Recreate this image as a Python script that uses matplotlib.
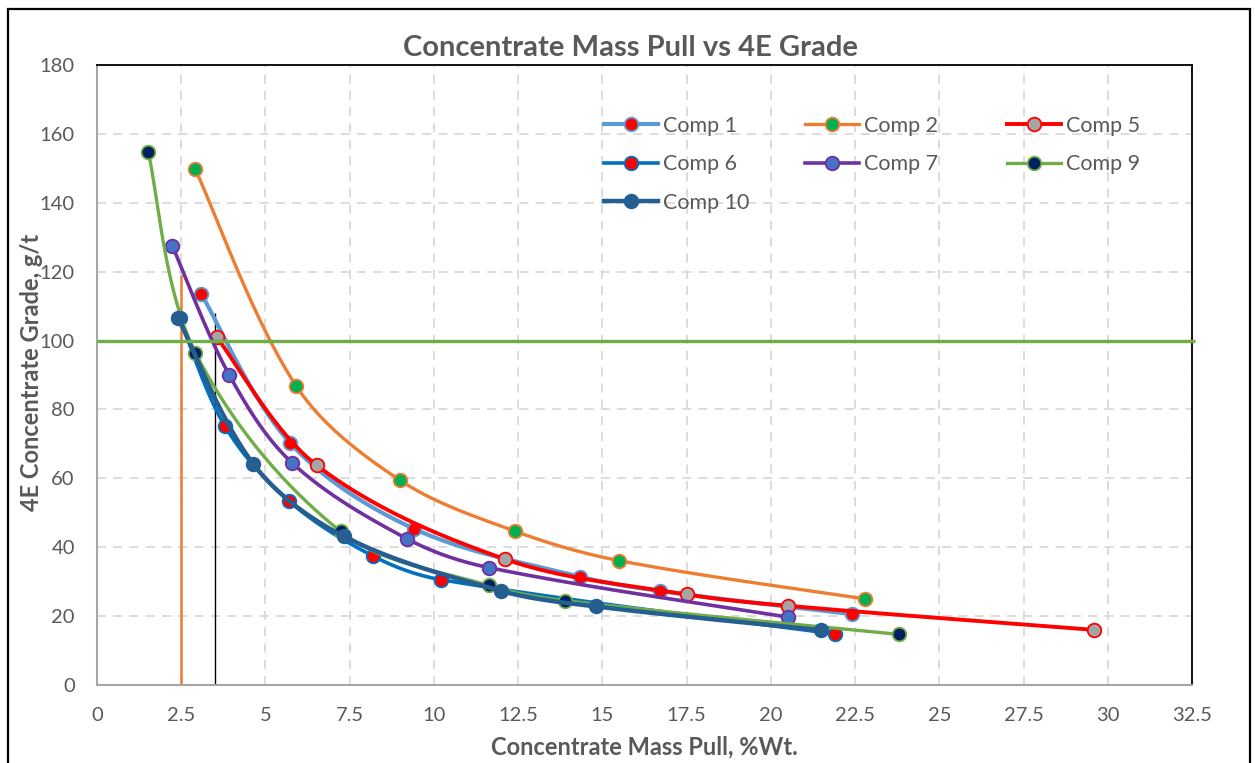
import numpy as np
import matplotlib
matplotlib.use("Agg")
import matplotlib.pyplot as plt
from matplotlib.lines import Line2D
from matplotlib.patches import Rectangle

plt.rcParams['font.family'] = ['Lato', 'DejaVu Sans']

# ---- data: mass pull (%wt) vs 4E concentrate grade (g/t) ----
comp1_x = [3.1, 5.72, 9.4, 14.35, 16.7, 22.4]
comp1_y = [113.4, 70.4, 45.4, 31.4, 27.3, 20.6]

comp2_x = [2.92, 5.92, 9.0, 12.42, 15.5, 22.8]
comp2_y = [149.7, 86.7, 59.4, 44.6, 36.1, 25.0]

comp5_x = [3.55, 6.52, 12.12, 17.5, 20.5, 29.6]
comp5_y = [101.0, 63.8, 36.5, 26.3, 23.0, 16.0]

comp6_x = [2.45, 3.8, 5.7, 8.2, 10.2, 21.9]
comp6_y = [106.5, 75.1, 53.4, 37.4, 30.6, 14.8]

comp7_x = [2.24, 3.92, 5.8, 9.21, 11.62, 20.5]
comp7_y = [127.4, 90.1, 64.4, 42.4, 34.1, 19.7]

comp9_x = [1.52, 2.92, 7.23, 11.62, 13.9, 23.8]
comp9_y = [154.8, 96.5, 44.6, 28.9, 24.5, 14.7]

comp10_x = [2.41, 4.63, 7.32, 12.0, 14.8, 21.5]
comp10_y = [106.5, 64.3, 43.2, 27.3, 22.8, 15.9]

series_names = ["Comp 1", "Comp 2", "Comp 5", "Comp 6", "Comp 7", "Comp 9", "Comp 10"]

# reference lines: 100 g/t target grade and two mass-pull cut-offs
target_grade_x = [0.0, 32.6]
target_grade_y = [100.0, 100.0]
pull_a_x = [2.5, 2.5]
pull_a_y = [0.0, 119.0]
pull_b_x = [3.5, 3.5]
pull_b_y = [0.0, 108.0]

x_ticks = [0, 2.5, 5, 7.5, 10, 12.5, 15, 17.5, 20, 22.5, 25, 27.5, 30, 32.5]
x_tick_labels = ["0", "2.5", "5", "7.5", "10", "12.5", "15", "17.5", "20", "22.5", "25", "27.5", "30", "32.5"]
y_ticks = [0, 20, 40, 60, 80, 100, 120, 140, 160, 180]

W, H = 1255, 763
AX_L, AX_R, AX_T, AX_B = 97, 1192, 65, 685
X_MAX, Y_MAX = 32.5, 180.0
SX = (AX_R - AX_L) / X_MAX      # pixels per x unit
SY = (AX_B - AX_T) / Y_MAX      # pixels per y unit


def smooth(xs, ys, n=50):
    """Bezier smoothing through the points; tangents follow neighbouring
    points and handle lengths follow each segment (no overshoot on uneven spacing)."""
    p = np.column_stack([np.asarray(xs) * SX, np.asarray(ys) * SY]).astype(float)
    m = len(p)
    d = np.zeros_like(p)
    for i in range(m):
        a = p[max(i - 1, 0)]
        b = p[min(i + 1, m - 1)]
        v = b - a
        d[i] = v / np.hypot(*v)
    out = [p[:1]]
    t = np.linspace(0, 1, n)[1:, None]
    for i in range(m - 1):
        p1, p2 = p[i], p[i + 1]
        L = np.hypot(*(p2 - p1))
        k1 = L / 3.0 if 0 < i else L / 5.0
        k2 = L / 3.0 if i + 1 < m - 1 else L / 5.0
        c1 = p1 + d[i] * k1
        c2 = p2 - d[i + 1] * k2
        seg = ((1 - t) ** 3) * p1 + 3 * ((1 - t) ** 2) * t * c1 + 3 * (1 - t) * t ** 2 * c2 + t ** 3 * p2
        out.append(seg)
    pts = np.vstack(out)
    return pts[:, 0] / SX, pts[:, 1] / SY


styles = {
    "Comp 1": dict(line="#5B9BD5", face="#FF0000", edge="#5B9BD5", lw=3.0),
    "Comp 2": dict(line="#ED7D31", face="#00B050", edge="#ED7D31", lw=2.4),
    "Comp 5": dict(line="#FF0000", face="#A5A5A5", edge="#FF0000", lw=2.8),
    "Comp 6": dict(line="#0070C0", face="#FF0000", edge="#0070C0", lw=2.6),
    "Comp 7": dict(line="#7030A0", face="#4472C4", edge="#7030A0", lw=2.6),
    "Comp 9": dict(line="#70AD47", face="#002060", edge="#70AD47", lw=2.4),
    "Comp 10": dict(line="#255E91", face="#255E91", edge="#255E91", lw=3.2),
}
data = {
    "Comp 1": (comp1_x, comp1_y),
    "Comp 2": (comp2_x, comp2_y),
    "Comp 5": (comp5_x, comp5_y),
    "Comp 6": (comp6_x, comp6_y),
    "Comp 7": (comp7_x, comp7_y),
    "Comp 9": (comp9_x, comp9_y),
    "Comp 10": (comp10_x, comp10_y),
}

fig = plt.figure(figsize=(W / 100, H / 100), dpi=100)
ax = fig.add_axes([AX_L / W, 1 - AX_B / H, (AX_R - AX_L) / W, (AX_B - AX_T) / H])

grey_text = "#595959"
MS = 9.8

# reference lines
ax.plot(pull_a_x, pull_a_y, color="#ED7D31", lw=1.8, zorder=2, solid_capstyle="butt")
ax.plot(pull_b_x, pull_b_y, color="black", lw=1.0, zorder=2, solid_capstyle="butt")

handles = {}
z = 3
for name in series_names:
    xs, ys = data[name]
    st = styles[name]
    sx, sy = smooth(xs, ys)
    ax.plot(sx, sy, color=st["line"], lw=st["lw"], zorder=z, solid_capstyle="round")
    ax.plot(xs, ys, linestyle="none", marker="o", markersize=MS,
            markerfacecolor=st["face"], markeredgecolor=st["edge"], markeredgewidth=1.3,
            zorder=z + 0.5)
    handles[name] = Line2D([], [], color=st["line"], lw=st["lw"], marker="o", markersize=MS,
                           markerfacecolor=st["face"], markeredgecolor=st["edge"],
                           markeredgewidth=1.3)
    z += 1

ax.plot(target_grade_x, target_grade_y, color="#70AD47", lw=2.4, zorder=z, clip_on=False,
        solid_capstyle="butt")

ax.set_xlim(0, X_MAX)
ax.set_ylim(0, Y_MAX)
ax.set_xticks(x_ticks)
ax.set_xticklabels(x_tick_labels)
ax.set_yticks(y_ticks)
ax.tick_params(axis="both", length=0, labelsize=14.5, colors=grey_text)
ax.tick_params(axis="x", pad=16)
ax.tick_params(axis="y", pad=16)

ax.grid(True, color="#D9D9D9", linestyle=(0, (5, 4)), linewidth=1.3, zorder=0)
ax.set_axisbelow(True)

for side in ("left", "bottom"):
    ax.spines[side].set_color("#A6A6A6")
    ax.spines[side].set_linewidth(1.5)
for side in ("top", "right"):
    ax.spines[side].set_color("black")
    ax.spines[side].set_linewidth(1.3)

# chart title centred on the whole chart area
fig.text(630 / W, 1 - 48 / H, "Concentrate Mass Pull vs 4E Grade", fontsize=21,
         fontweight="bold", color=grey_text, ha="center", va="center")
ax.set_xlabel("Concentrate Mass Pull, %Wt.", fontsize=17, fontweight="bold",
              color=grey_text, labelpad=8)
ax.set_ylabel("4E Concentrate Grade, g/t", fontsize=17, fontweight="bold",
              color=grey_text)
ax.yaxis.set_label_coords((43 - AX_L) / (AX_R - AX_L), (AX_B - 372) / (AX_B - AX_T))

# legend: three columns placed side by side, filled row by row
columns = [["Comp 1", "Comp 6", "Comp 10"], ["Comp 2", "Comp 7"], ["Comp 5", "Comp 9"]]
col_left_px = [604, 805, 1007]
legend_top_px = 116
legends = []
for names, left in zip(columns, col_left_px):
    lg = ax.legend([handles[n] for n in names], names, ncol=1, frameon=False,
                   fontsize=15.5, labelcolor=grey_text, handlelength=2.5, handletextpad=0.25,
                   labelspacing=0.85, loc="upper left",
                   bbox_to_anchor=((left - AX_L) / (AX_R - AX_L),
                                   1 - (legend_top_px - AX_T) / (AX_B - AX_T)),
                   borderaxespad=0, borderpad=0)
    lg.set_zorder(20)
    legends.append(lg)
for lg in legends[:-1]:
    ax.add_artist(lg)

# outer chart border
fig.patches.append(Rectangle((8 / W, -0.02), (1250 - 8) / W, 1 - 9 / H + 0.02,
                             transform=fig.transFigure, fill=False, edgecolor="black",
                             linewidth=1.6))

fig.savefig("out.png", dpi=100)
